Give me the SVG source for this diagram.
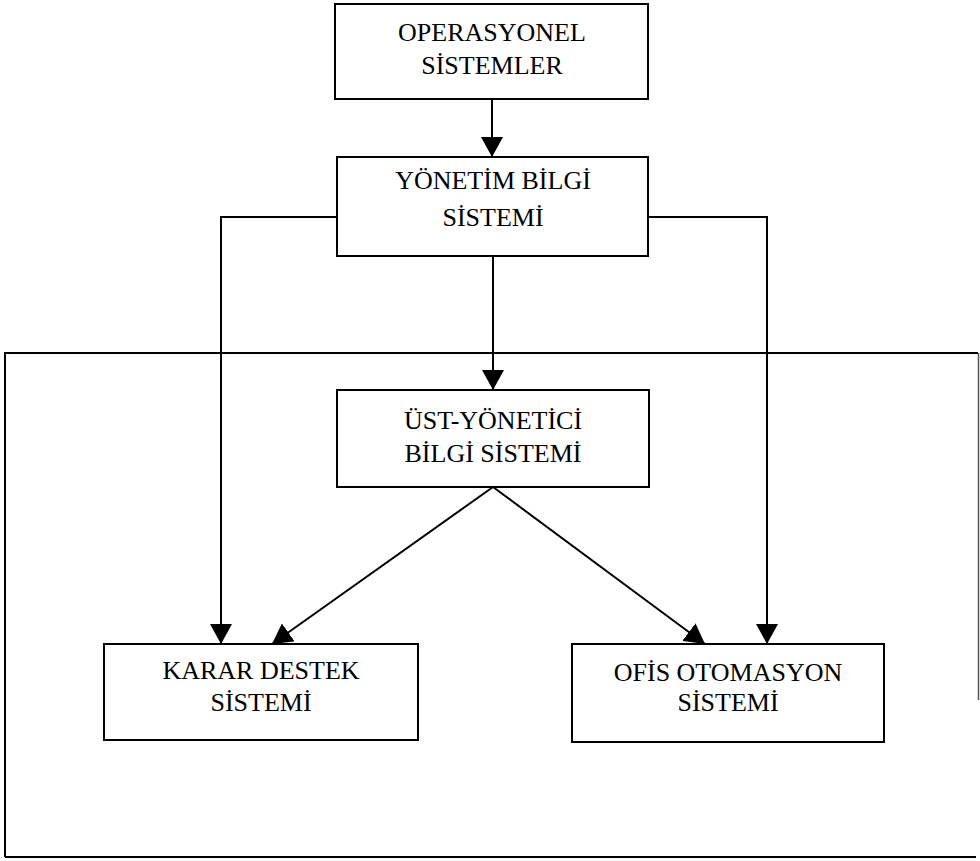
<svg xmlns="http://www.w3.org/2000/svg" width="980" height="861" viewBox="0 0 980 861">
  <style>
    .box { fill: #ffffff; stroke: #000000; stroke-width: 2; }
    .lbl { font-family: "Liberation Serif", "Times New Roman", serif; font-size: 26px; fill: #000000; text-anchor: middle; }
    .wire { fill: none; stroke: #000000; stroke-width: 2; }
  </style>
  <defs>
    <marker id="head" viewBox="0 0 20 22" refX="20" refY="11" markerWidth="20" markerHeight="22" markerUnits="userSpaceOnUse" orient="auto">
      <path d="M0,0 L20,11 L0,22 Z" fill="#000000"/>
    </marker>
  </defs>

  <rect width="980" height="861" fill="#ffffff"/>

  <!-- enclosing frame (right edge only partly printed) -->
  <g id="frame">
    <path class="wire" d="M5,857 L5,353 L978,353"/>
    <path class="wire" d="M5,857 L976,857"/>
    <path d="M978.5,353 L978.5,700" fill="none" stroke="#555555" stroke-width="1.5"/>
  </g>

  <!-- connectors -->
  <g id="connectors">
    <path class="wire" d="M492,99 L492,157" marker-end="url(#head)"/>
    <path class="wire" d="M493,256 L493,390" marker-end="url(#head)"/>
    <path class="wire" d="M337,217 L221,217 L221,644" marker-end="url(#head)"/>
    <path class="wire" d="M648,217 L767,217 L767,644" marker-end="url(#head)"/>
    <path class="wire" d="M493,487 L272,644" marker-end="url(#head)"/>
    <path class="wire" d="M493,487 L705,644" marker-end="url(#head)"/>
  </g>

  <g id="operasyonel">
    <rect class="box" x="335" y="4" width="313" height="95"/>
    <text class="lbl" x="492" y="41">OPERASYONEL</text>
    <text class="lbl" x="492" y="74">SİSTEMLER</text>
  </g>

  <g id="ybs">
    <rect class="box" x="337" y="157" width="311" height="99"/>
    <text class="lbl" x="493" y="189">YÖNETİM BİLGİ</text>
    <text class="lbl" x="493" y="226">SİSTEMİ</text>
  </g>

  <g id="ust-yonetici">
    <rect class="box" x="337" y="390" width="312" height="97"/>
    <text class="lbl" x="493" y="429">ÜST-YÖNETİCİ</text>
    <text class="lbl" x="493" y="462">BİLGİ SİSTEMİ</text>
  </g>

  <g id="karar-destek">
    <rect class="box" x="104" y="644" width="314" height="96"/>
    <text class="lbl" x="261" y="679">KARAR DESTEK</text>
    <text class="lbl" x="261" y="711">SİSTEMİ</text>
  </g>

  <g id="ofis-otomasyon">
    <rect class="box" x="572" y="644" width="312" height="98"/>
    <text class="lbl" x="728" y="681">OFİS OTOMASYON</text>
    <text class="lbl" x="728" y="711">SİSTEMİ</text>
  </g>
</svg>
